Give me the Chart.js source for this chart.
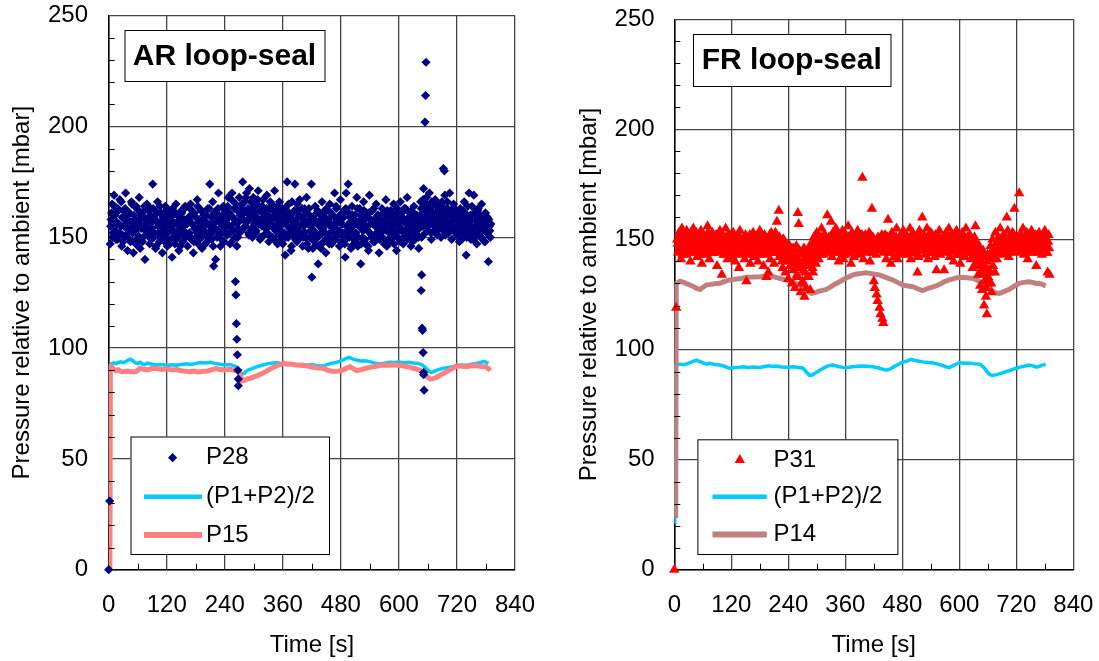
<!DOCTYPE html>
<html>
<head>
<meta charset="utf-8">
<script src="https://cdn.jsdelivr.net/npm/chart.js@4.4.1/dist/chart.umd.min.js"></script>
<style>
  html, body { margin: 0; padding: 0; background: #fff; }
  #wrap { position: relative; width: 1099px; height: 661px; overflow: hidden; }
  canvas { position: absolute; top: 0; }
  #arChart { left: 0; }
  #frChart { left: 550px; }
</style>
</head>
<body>
<div id="wrap">
  <canvas id="arChart" width="550" height="661"></canvas>
  <canvas id="frChart" width="549" height="661"></canvas>
</div>
<script>
// ---- axis ticks ----
const timeTicks = [0, 120, 240, 360, 480, 600, 720, 840];
const pressureTicks = [0, 50, 100, 150, 200, 250];

// ---- AR loop-seal: P28, 1 Hz record split into two interleaved runs ----
const p28Start = 3;        // first run: 3, 5, 7 ... s
const p28StartB = 4;       // second run: 4, 6, 8 ... s
const p28Step = 2;
const p28Values = [
  147,158,165,152,169,160,149,156,163,151,167,155,146,159,162,150,170,157,144,153,161,148,166,155,143,158,152,164,149,157,168,145,154,160,150,162,140,156,165,151,
  158,147,163,154,174,150,160,145,157,166,152,148,161,155,143,159,150,164,153,146,158,162,149,155,141,160,152,147,165,156,150,144,158,153,161,148,155,163,150,157,
  146,159,152,165,149,156,143,161,154,150,167,147,158,153,162,145,155,160,151,157,148,163,152,174,156,149,166,137,158,140,161,153,170,150,146,159,155,164,148,157,
  162,151,168,155,147,160,170,153,149,158,165,146,150,157,152,163,160,175,158,166,155,170,161,152,172,159,163,150,168,156,161,153,165,171,157,149,162,155,167,151,
  160,154,169,158,148,163,156,165,150,159,171,153,162,147,158,166,155,149,163,160,152,142,157,175,150,161,154,144,166,158,151,174,156,148,162,153,167,150,159,146,
  155,163,150,168,157,145,160,153,174,149,158,152,164,147,156,138,161,151,145,166,154,148,159,143,162,150,157,165,152,147,160,155,170,149,163,153,158,146,167,151,
  156,148,162,141,170,153,174,150,159,145,164,155,149,160,152,168,146,157,163,138,154,150,166,158,147,161,153,144,169,156,151,162,148,158,155,165,150,160,143,157,
  152,163,149,158,154,167,146,160,153,148,162,156,150,165,152,158,144,161,155,149,166,153,159,147,163,151,157,168,150,155,161,146,158,153,164,149,156,160,151,145,
  157,166,150,163,172,158,152,168,160,155,170,162,149,165,157,153,167,159,151,164,156,161,150,166,158,153,169,160,155,163,152,170,157,149,162,165,154,159,151,161,
  156,148,163,153,158,150,166,155,142,160,152,170,157,149,164,154,169,151,158,147,162,155,160,150,165,153,157,148,161,152,159,139,155,150
];
const p28ValuesB = [
  155,161,150,158,164,153,157,149,162,156,152,166,159,148,155,163,151,158,160,154,149,157,165,152,160,156,147,163,154,158,150,161,155,148,159,164,153,157,151,162,
  154,160,149,157,163,152,158,146,161,155,150,164,157,151,159,153,148,162,156,152,160,147,158,154,163,150,156,161,149,157,153,159,146,162,155,151,158,164,152,156,
  151,158,163,150,156,161,148,154,159,152,164,157,149,155,162,151,158,153,147,160,156,150,163,155,159,152,146,161,154,157,150,163,158,151,156,149,160,153,162,155,
  158,164,155,161,152,167,159,156,163,150,157,162,154,168,160,153,165,158,162,155,168,157,163,151,160,166,154,161,158,164,152,159,167,156,162,150,158,164,155,160,
  157,163,152,160,155,166,150,158,162,154,160,148,156,164,151,159,153,161,147,157,163,150,158,155,165,152,160,146,157,154,162,149,158,165,153,160,151,156,163,150,
  158,152,161,147,156,163,150,155,159,145,153,160,149,157,162,151,146,158,154,161,148,156,152,163,150,158,147,155,161,153,149,159,156,164,151,157,153,160,148,156,
  152,159,147,163,155,150,161,153,157,146,160,152,158,148,156,163,150,155,160,147,157,153,162,149,155,159,146,161,152,158,150,156,163,148,157,152,160,154,149,158,
  155,150,161,147,157,153,162,149,156,159,151,154,160,147,157,152,163,150,155,158,148,161,153,157,150,163,154,149,159,152,156,162,148,155,151,160,153,157,150,154,
  160,163,155,167,158,162,154,165,159,156,163,152,166,158,161,155,160,164,153,162,158,165,154,160,157,163,151,159,166,156,161,154,160,157,163,153,159,162,155,158,
  152,160,155,149,162,157,153,159,150,164,156,152,160,154,158,149,161,155,151,157,163,153,159,150,156,154,160,148,157,155,152,158,153,156
];
// P28 start-up and excursions (time, value)
const p28EventTimes  = [0, 2, 262, 263, 264, 265, 266, 267, 268, 268, 420, 646, 647, 648, 649, 650, 651, 651, 652, 654, 655, 656, 692, 694];
const p28EventValues = [0, 31, 130, 124, 111, 104, 97, 90, 86, 83, 132, 126, 133, 109, 108, 98, 89, 88, 81, 202, 214, 229, 181, 180];

// ---- AR loop-seal: (P1+P2)/2 ----
const arAvgTimes = [0,1,5,10,15,20,25,30,35,40,45,50,55,60,65,70,75,80,90,100,110,120,130,140,150,160,170,180,190,200,210,220,230,240,250,258,264,268,272,276,280,285,290,295,300,310,320,330,340,350,360,370,380,390,400,410,420,430,440,450,460,470,480,490,497,505,512,520,530,540,550,560,570,580,590,600,610,620,630,640,648,655,662,667,672,680,690,700,710,720,730,740,750,760,770,776,781,785];
const arAvgValues = [21,92,92.8,93.3,93,93.5,93.8,93.4,93.9,94.6,95,94.3,93.4,93,93.6,92.8,92.5,93.2,92.7,92.4,92.6,92.2,92.5,92.3,92.6,92.9,92.6,93.1,93.5,93.3,93.6,93.1,92.7,92.4,92.6,92.1,91.5,90,88.8,88.3,88.7,89.6,90.3,90.6,91.1,91.8,92.5,93,93.3,93.4,92.8,92.5,92.8,92.4,92.7,92.3,92.6,92.1,91.8,92.4,93.1,93.5,94.2,95.3,95.8,95,94.6,94.2,94.3,93.9,93.2,92.8,93.2,93.6,93.5,93.7,93.4,93.6,93.3,93.1,92.4,91.2,89.6,89,89.5,90.2,90.8,91.2,91.6,92,92.4,92.3,92.7,93.1,93.6,94,93.5,93];

// ---- AR loop-seal: P15 ----
const p15Times = [2.5,3.5,6,10,15,20,25,30,40,50,57,64,70,80,90,98,110,120,130,140,150,160,167,175,185,195,205,215,222,230,240,250,260,268,272,276,280,287,292,300,310,319,330,340,347,355,361,368,375,385,395,409,420,430,444,455,465,475,485,492,499,506,513,520,530,540,548,558,568,580,590,600,610,623,635,644,651,658,665,672,679,688,699,710,720,730,741,750,762,770,779,785,789];
const p15Values = [0,91.5,91.8,90.5,89.8,90.2,89.5,89.3,89.6,89.2,89.5,90.8,90.6,90.2,90.9,90.8,90.4,90.6,90.1,90.3,89.8,89.5,89.3,89.6,89.2,89.5,89.7,90.4,90.8,90.3,90.1,90.4,90,89.6,87.5,85.2,85.4,86.2,86.3,87,87.8,88.7,90.1,91.3,92,92.6,93.1,92.8,92.8,92.5,92.3,92,91.5,91.1,90.8,89.9,89.4,89.6,90.2,91,91.6,90.6,89.8,90.2,90.8,91.3,91.6,92,92.4,92.3,92.5,92.2,91.9,91.3,90.6,90,88.7,87.1,86,86.3,86.9,88.1,89.4,90.8,92,91.8,91.6,92.1,92,91.7,91.6,90.8,89.8];

// ---- FR loop-seal: P31, 1 Hz record split into two interleaved runs ----
const p31Start = 6;
const p31StartB = 7;
const p31Step = 2;
const p31Values = [
  150,144,153,147,141,155,148,145,151,143,154,149,146,152,140,150,147,155,144,148,153,142,151,146,149,154,139,147,152,145,150,143,156,148,141,151,146,153,144,149,
  147,152,138,150,145,154,148,134,151,143,149,155,146,141,152,147,144,150,142,153,148,140,151,145,149,137,154,146,143,150,148,141,152,131,147,144,151,139,149,146,
  153,142,148,145,151,140,147,154,143,149,146,138,152,144,133,150,135,147,141,153,145,148,139,151,144,158,149,163,142,146,140,137,150,143,135,147,141,132,145,138,
  143,130,146,137,128,141,134,162,157,139,126,144,131,136,124,140,128,133,145,138,127,142,148,135,151,144,139,153,147,141,150,145,155,148,143,152,146,149,161,144,
  151,147,158,142,153,146,150,155,144,149,140,152,147,145,154,141,148,143,151,146,156,144,150,139,153,147,142,149,145,152,154,148,143,150,146,178,141,147,152,145,
  149,144,153,140,147,164,151,131,128,145,125,122,150,119,116,147,114,112,146,152,141,148,159,144,150,139,153,146,142,149,145,155,141,148,151,143,150,146,154,144,
  147,152,143,150,145,155,141,148,153,146,144,151,149,135,142,154,147,150,160,145,152,143,148,155,141,149,146,153,144,150,147,142,152,136,148,145,154,143,150,146,
  151,136,147,153,144,149,155,142,148,145,152,140,150,146,154,143,148,151,139,147,153,145,149,142,155,146,150,144,152,141,148,137,145,151,156,139,143,134,147,129,
  140,127,145,120,138,124,116,143,130,135,147,126,150,141,146,153,144,149,151,145,155,147,150,143,152,148,146,160,154,142,149,150,145,153,147,164,151,144,150,146,
  171,152,145,149,155,143,150,147,153,141,148,151,146,154,144,150,147,152,138,149,145,153,148,150,143,151,146,154,149,144,135,152,134
];
const p31ValuesB = [
  148,145,151,146,150,143,152,147,149,144,153,148,145,150,146,152,144,149,147,151,145,150,148,143,152,146,149,151,144,148,150,146,153,147,145,151,148,144,150,147,
  149,146,151,144,148,152,145,150,147,143,151,148,146,150,144,152,147,149,145,151,143,148,150,146,152,145,149,147,144,150,148,146,151,145,149,143,152,147,150,145,
  148,151,145,149,146,152,144,150,147,145,151,148,143,150,146,149,144,152,147,145,150,146,148,153,144,149,146,151,143,148,145,150,147,142,148,144,146,140,147,143,
  141,145,136,143,139,147,133,141,145,137,143,130,140,146,135,142,138,144,133,147,140,145,137,149,143,146,141,150,145,148,143,151,146,149,144,152,147,150,145,149,
  148,151,145,150,147,153,144,149,146,152,148,145,151,147,143,150,146,152,148,145,151,147,149,144,152,146,150,148,145,151,147,150,144,149,152,146,148,151,145,150,
  147,150,145,152,148,144,150,146,149,143,147,151,145,149,146,152,148,144,150,147,145,151,148,146,150,144,152,147,149,145,151,148,146,150,144,149,147,152,146,150,
  148,145,151,147,150,144,149,152,146,148,145,150,147,143,151,148,146,152,145,149,147,150,144,151,148,146,150,145,152,147,149,144,150,146,148,151,145,149,147,150,
  146,150,148,145,151,147,149,144,152,146,150,148,145,151,147,149,143,150,146,152,148,145,150,147,144,151,146,149,148,145,150,144,147,142,149,140,145,138,143,136,
  139,134,142,131,137,128,140,133,136,142,130,145,138,143,135,147,141,146,149,144,150,146,148,152,145,150,147,149,144,151,148,146,150,145,152,147,149,146,151,148,
  150,146,152,147,149,145,151,148,144,150,147,152,146,149,145,151,148,146,150,144,152,147,149,146,150,145,148,151,147,144,149,146
];
const p31EventTimes  = [0, 4];
const p31EventValues = [0, 119];

// ---- FR loop-seal: (P1+P2)/2 ----
const frAvgTimes = [0,1,6,12,20,28,35,42,47,53,60,68,75,85,96,105,112,117,125,135,145,155,165,180,190,200,208,215,225,235,250,262,271,278,285,290,299,308,320,327,334,345,355,362,375,390,405,418,430,440,446,455,460,470,481,490,499,507,515,523,535,545,551,560,570,579,588,600,612,620,628,640,646,652,658,664,670,678,688,698,708,718,726,736,747,755,762,768,775,782];
const frAvgValues = [21.5,92.5,93,93.4,93.1,93.6,94.2,94.8,95.2,94.6,94,93.4,93.7,93.2,93,92.4,91.8,91.5,91.7,91.9,92.2,91.9,92.1,91.9,92.3,92.6,92.3,92.5,92.1,92,92.2,91.8,91.5,89.8,88.2,88.4,89.6,90.8,92.2,92.8,93,92.3,91.9,91.7,92.2,92.5,92.4,92.2,91.6,91,90.6,91.2,91.9,93.1,94.3,94.8,95.5,95,94.7,94.4,94.1,93.9,93.6,93.1,92.3,91.8,92.8,94,93.8,93.9,93.6,93.4,93,91.8,90,88.7,88.2,88.6,89.2,90,90.6,91.4,91.9,92.4,93,92.6,92,92.3,92.9,93.3];

// ---- FR loop-seal: P14 ----
const p14Times = [3,4,8,12,20,27,33,40,47,54,60,68,76,86,96,105,117,128,140,152,165,180,190,201,212,224,236,250,264,272,278,284,289,296,305,312,320,330,340,348,356,366,376,385,395,404,412,422,432,445,460,470,481,492,502,512,523,531,541,551,562,570,579,590,600,612,620,628,638,649,658,664,670,677,684,692,699,705,714,726,736,747,756,762,768,775,782];
const p14Values = [23.5,130,130.5,131,130.5,129.8,129.3,128.6,127.8,127.3,128.2,129.4,129.6,129.9,130.1,130.8,131.6,131.9,132.3,132.8,132.9,133.1,133.3,133.4,132.9,132.2,131.6,130.6,129.3,128.2,127.1,126.1,125.5,125.9,126.5,126.9,127.3,128.6,129.9,130.8,131.8,132.9,133.9,134.3,134.6,134.9,134.6,134.2,133.9,132.8,131.6,130.5,129.3,128.9,128.6,127.6,126.8,127.5,128.2,128.9,130,131,131.6,132.3,132.8,132.7,132.5,132.4,131.5,130.1,128.9,127.5,126.3,125.8,125.5,126.1,126.8,127.3,128.6,130.1,130.5,130.8,130.4,130,130.1,129.6,128.9];

// ---- helpers turning the arrays into {x, y} points ----
const FONT = "'Liberation Sans', Arial, Helvetica, sans-serif";
function pairs(times, values) { return times.map((t, i) => ({ x: t, y: values[i] })); }
function sampled(start, step, values) { return values.map((v, i) => ({ x: start + i * step, y: v })); }
function byTime(a, b) { return a.x - b.x; }

// Minor tick marks, the caption box and the legend box of each panel
const panelDecor = {
  id: 'panelDecor',
  afterDraw(chart, args, opts) {
    const { ctx, chartArea: a, scales: { x, y } } = chart;
    ctx.save();
    ctx.strokeStyle = '#000';
    ctx.lineWidth = 1;
    ctx.beginPath();
    for (let v = y.min; v <= y.max; v += opts.yMinor) {
      if (v % opts.yMajor === 0) continue;
      const py = Math.round(y.getPixelForValue(v)) + 0.5;
      ctx.moveTo(a.left, py); ctx.lineTo(a.left + 6, py);
    }
    for (let t = x.min; t <= x.max; t += opts.xMinor) {
      if (t % opts.xMajor === 0) continue;
      const px = Math.round(x.getPixelForValue(t)) + 0.5;
      ctx.moveTo(px, a.bottom); ctx.lineTo(px, a.bottom - 6);
    }
    ctx.stroke();

    // caption box
    const c = opts.caption;
    ctx.fillStyle = '#fff';
    ctx.fillRect(c.x, c.y, c.w, c.h);
    ctx.strokeStyle = '#000';
    ctx.lineWidth = 1;
    ctx.strokeRect(c.x + 0.5, c.y + 0.5, c.w, c.h);
    ctx.fillStyle = '#000';
    ctx.font = 'bold 30px ' + FONT;
    ctx.textAlign = 'center';
    ctx.textBaseline = 'middle';
    ctx.fillText(c.text, c.x + c.w / 2, c.y + c.h / 2 + 1);

    // legend box
    const L = opts.legend;
    ctx.fillStyle = '#fff';
    ctx.fillRect(L.x, L.y, L.w, L.h);
    ctx.strokeStyle = '#000';
    ctx.strokeRect(L.x + 0.5, L.y + 0.5, L.w, L.h);
    ctx.font = '24px ' + FONT;
    ctx.textAlign = 'left';
    ctx.textBaseline = 'middle';
    L.rows.forEach((rowY, i) => {
      const ds = chart.data.datasets[i];
      if (ds.showLine === false) {
        ctx.fillStyle = ds.pointBackgroundColor;
        Chart.helpers.drawPoint(ctx, { pointStyle: ds.pointStyle, radius: ds.pointRadius, rotation: 0, borderWidth: 0 }, L.markX, rowY);
      } else {
        ctx.strokeStyle = ds.borderColor;
        ctx.lineWidth = ds.legendWidth;
        ctx.lineCap = 'butt';
        ctx.beginPath();
        ctx.moveTo(L.lineX0, rowY); ctx.lineTo(L.lineX1, rowY);
        ctx.stroke();
      }
      ctx.fillStyle = '#000';
      ctx.fillText(ds.label, L.textX, rowY);
    });
    ctx.restore();
  }
};

function makeScales(geom) {
  const tickFont = { family: FONT, size: 24 };
  return {
    x: {
      type: 'linear', min: 0, max: 840,
      afterBuildTicks: s => { s.ticks = timeTicks.map(v => ({ value: v })); },
      ticks: { font: tickFont, color: '#000', padding: 21, maxRotation: 0, autoSkip: false },
      grid: { color: '#444', lineWidth: 1.3, drawTicks: false },
      border: { color: '#000', width: 1.5 },
      title: { display: true, text: 'Time [s]', color: '#000', font: { family: FONT, size: 24 }, padding: { top: 0, bottom: 1 } },
      afterFit: s => { s.height = geom.xAxisHeight; s.paddingLeft = 0; s.paddingRight = 0; }
    },
    y: {
      type: 'linear', min: 0, max: 250,
      afterBuildTicks: s => { s.ticks = pressureTicks.map(v => ({ value: v })); },
      ticks: { font: tickFont, color: '#000', padding: geom.yTickPad },
      grid: { color: '#444', lineWidth: 1.3, drawTicks: false },
      border: { color: '#000', width: 1.5 },
      title: { display: true, text: 'Pressure relative to ambient [mbar]', color: '#000', font: { family: FONT, size: 24 }, padding: { top: geom.yTitlePad, bottom: 0 } },
      afterFit: s => { s.width = geom.yAxisWidth; s.paddingTop = 0; s.paddingBottom = 0; }
    }
  };
}

function makePanel(canvasId, datasets, geom, decor) {
  return new Chart(document.getElementById(canvasId), {
    type: 'line',
    data: { datasets },
    options: {
      responsive: false,
      animation: false,
      devicePixelRatio: 1,
      events: [],
      layout: { padding: { left: 0, right: geom.padRight, top: geom.padTop, bottom: 0 } },
      scales: makeScales(geom),
      plugins: { legend: { display: false }, tooltip: { enabled: false }, title: { display: false }, panelDecor: decor }
    },
    plugins: [panelDecor]
  });
}

const arPoints = sampled(p28Start, p28Step, p28Values)
  .concat(sampled(p28StartB, p28Step, p28ValuesB))
  .concat(pairs(p28EventTimes, p28EventValues)).sort(byTime);
const frPoints = sampled(p31Start, p31Step, p31Values)
  .concat(sampled(p31StartB, p31Step, p31ValuesB))
  .concat(pairs(p31EventTimes, p31EventValues)).sort(byTime);

makePanel('arChart', [
  { label: 'P28', data: arPoints, showLine: false, pointStyle: 'rectRot', pointRadius: 4.6, pointBorderWidth: 0,
    pointBackgroundColor: '#000080', borderColor: '#000080', backgroundColor: '#000080', order: 0, clip: false },
  { label: '(P1+P2)/2', data: pairs(arAvgTimes, arAvgValues), borderColor: '#00CCFF', borderWidth: 3.5, legendWidth: 4.5,
    pointRadius: 0, tension: 0, fill: false, order: 2 },
  { label: 'P15', data: pairs(p15Times, p15Values), borderColor: '#FF8080', borderWidth: 5, legendWidth: 6,
    pointRadius: 0, tension: 0, fill: false, order: 1 }
], { xAxisHeight: 91.3, yAxisWidth: 108.7, yTickPad: 20.7, yTitlePad: 7.6, padRight: 35, padTop: 15.7 }, {
  yMinor: 10, yMajor: 50, xMinor: 60, xMajor: 120,
  caption: { text: 'AR loop-seal', x: 124.5, y: 30, w: 200, h: 51 },
  legend: { x: 130.5, y: 436.5, w: 198.5, h: 117.5, lineX0: 144, lineX1: 202, markX: 172.6, textX: 206, rows: [457.7, 496.7, 535] }
});

makePanel('frChart', [
  { label: 'P31', data: frPoints, showLine: false, pointStyle: 'triangle', pointRadius: 6, pointBorderWidth: 0,
    pointBackgroundColor: '#FF0000', borderColor: '#FF0000', backgroundColor: '#FF0000', order: 0, clip: false },
  { label: '(P1+P2)/2', data: pairs(frAvgTimes, frAvgValues), borderColor: '#00CCFF', borderWidth: 3.5, legendWidth: 4.5,
    pointRadius: 0, tension: 0, fill: false, order: 2 },
  { label: 'P14', data: pairs(p14Times, p14Values), borderColor: '#C08080', borderWidth: 5, legendWidth: 6,
    pointRadius: 0, tension: 0, fill: false, order: 1 }
], { xAxisHeight: 91.3, yAxisWidth: 124.3, yTickPad: 19.7, yTitlePad: 24.6, padRight: 25.7, padTop: 19.3 }, {
  yMinor: 10, yMajor: 50, xMinor: 60, xMajor: 120,
  caption: { text: 'FR loop-seal', x: 143, y: 34, w: 197.5, h: 52 },
  legend: { x: 147.4, y: 439.3, w: 200, h: 114.7, lineX0: 162.5, lineX1: 216.8, markX: 189.8, textX: 223.5, rows: [460, 496.7, 534.5] }
});
</script>
</body>
</html>
